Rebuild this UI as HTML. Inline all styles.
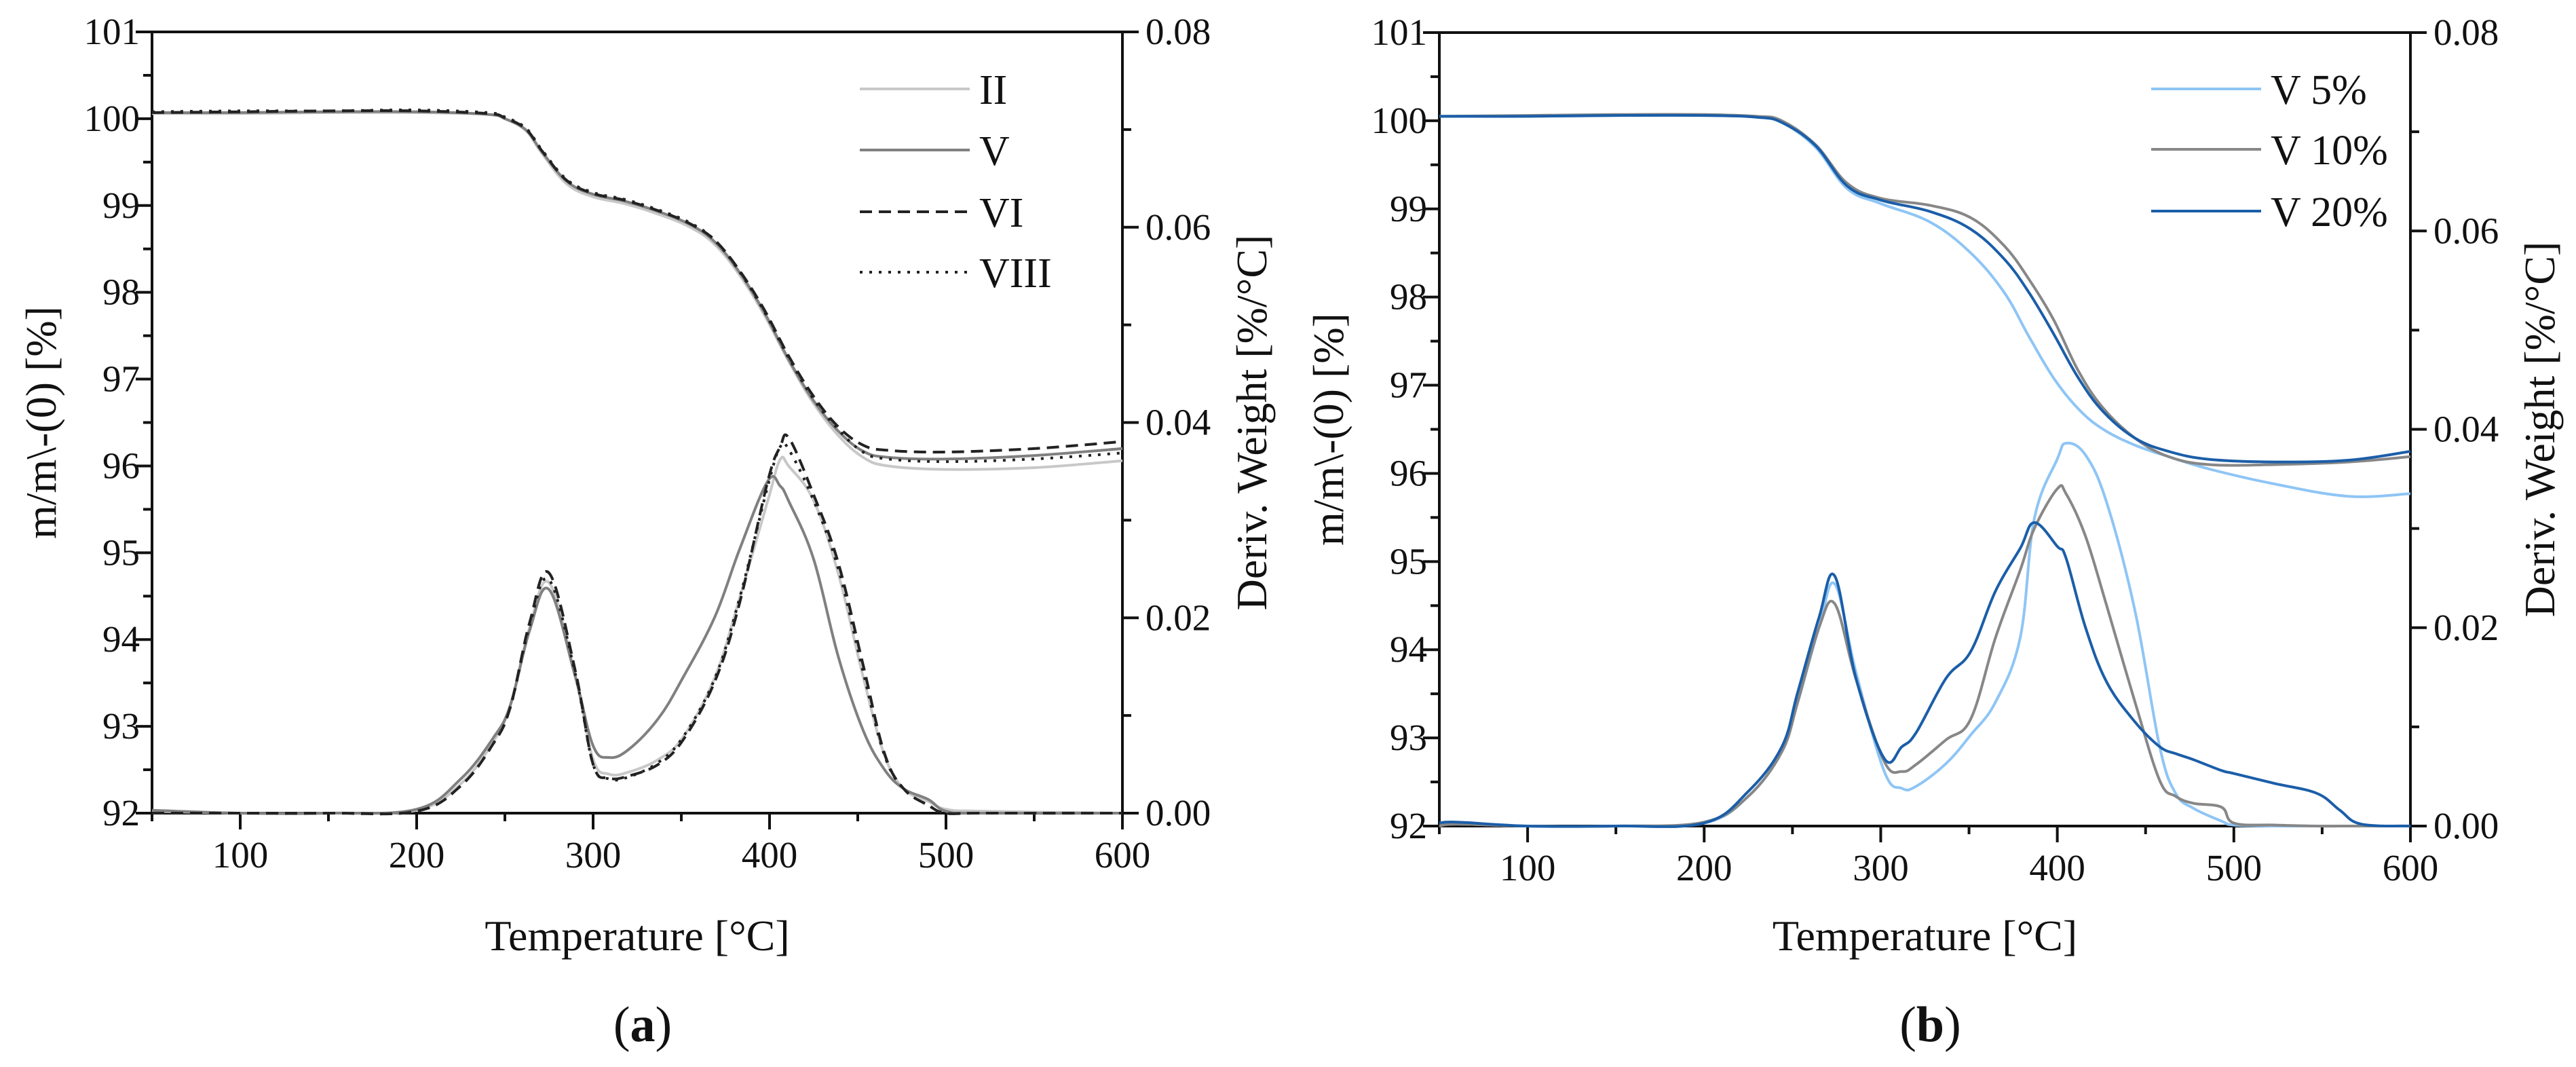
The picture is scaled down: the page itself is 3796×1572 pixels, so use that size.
<!DOCTYPE html>
<html><head><meta charset="utf-8"><style>
html,body{margin:0;padding:0;background:#fff}
svg text{font-family:"Liberation Serif",serif;fill:#111}
</style></head><body>
<svg id="chart" width="3796" height="1567" viewBox="0 0 3796 1567" xmlns="http://www.w3.org/2000/svg"></svg>
<script>
// ---------- Panel (a) data ----------
const aTgaTemps = [50,100,150,200,240,250,262,271,285,300,318,337,355,369,383,397,411,425,439,453,467,500,550,600];
const aTgaII   = [100.06,100.06,100.07,100.07,100.05,100.0,99.86,99.6,99.25,99.1,99.02,98.9,98.75,98.55,98.2,97.74,97.2,96.72,96.35,96.1,96.0,95.96,95.98,96.06];
const aTgaV    = [100.07,100.07,100.08,100.08,100.05,100.0,99.87,99.62,99.28,99.13,99.05,98.93,98.78,98.58,98.23,97.77,97.22,96.75,96.4,96.17,96.1,96.08,96.12,96.2];
const aTgaVI   = [100.07,100.08,100.09,100.09,100.06,100.01,99.88,99.63,99.29,99.14,99.06,98.94,98.79,98.6,98.25,97.8,97.26,96.8,96.45,96.24,96.18,96.16,96.2,96.28];
const aTgaVIII = [100.08,100.09,100.09,100.1,100.07,100.02,99.89,99.64,99.3,99.15,99.07,98.95,98.8,98.6,98.24,97.78,97.24,96.77,96.42,96.16,96.08,96.05,96.08,96.15];
const aDtgTemps = [50,100,150,200,225,243,253,264,275,290,300,309,320,337,351,369,383,399,406,411,425,439,453,465,476,490,500,520,600];
const aDtgII   = [0.0002,0,0,0.0003,0.003,0.0072,0.011,0.019,0.0236,0.014,0.0055,0.004,0.0042,0.0055,0.0078,0.0139,0.022,0.032,0.0362,0.0355,0.032,0.0245,0.014,0.006,0.0025,0.0012,0.0004,0.0002,0];
const aDtgV    = [0.0003,0,0,0.0004,0.0035,0.0076,0.011,0.0187,0.0229,0.0139,0.0069,0.0057,0.0065,0.0097,0.0139,0.0201,0.027,0.034,0.0335,0.0319,0.026,0.016,0.0085,0.0045,0.0025,0.0014,0.0002,0,0];
const aDtgVI   = [0,0,0,0.0002,0.0028,0.007,0.0108,0.0195,0.0246,0.0145,0.005,0.0036,0.0038,0.005,0.0075,0.0135,0.0215,0.034,0.0375,0.0384,0.0326,0.0256,0.0152,0.0062,0.0025,0.0008,0,0,0];
const aDtgVIII = [0,0,0,0.0002,0.0028,0.007,0.0108,0.0192,0.0239,0.0142,0.005,0.0035,0.0037,0.0052,0.0078,0.0138,0.022,0.0335,0.0375,0.0372,0.032,0.025,0.0145,0.006,0.0025,0.0008,0,0,0];
// ---------- Panel (b) data ----------
const bTgaTemps = [50,100,150,200,230,244,263,281,300,328,351,370,384,398,412,426,444,463,486,523,565,600];
const bTgaV5  = [100.05,100.05,100.06,100.06,100.04,99.98,99.7,99.23,99.06,98.85,98.5,98.05,97.55,97.08,96.73,96.5,96.32,96.19,96.05,95.88,95.74,95.77];
const bTgaV10 = [100.05,100.06,100.07,100.07,100.05,100.0,99.73,99.29,99.12,99.04,98.9,98.58,98.2,97.74,97.16,96.74,96.4,96.19,96.1,96.1,96.13,96.19];
const bTgaV20 = [100.05,100.05,100.06,100.06,100.04,99.98,99.72,99.26,99.1,98.97,98.77,98.43,98.05,97.58,97.08,96.7,96.4,96.25,96.16,96.13,96.15,96.25];
const bDtgTemps = [50,60,100,150,200,225,244,253,265,274,286,302,312,320,337,351,365,379,387,400,405,416,428,444,458,467,477,493,500,523,547,560,572,600];
const bDtgV5  = [0,0.0002,0,0,0.0003,0.003,0.0075,0.0125,0.02,0.0244,0.0155,0.0055,0.0038,0.004,0.0063,0.0092,0.0125,0.019,0.031,0.037,0.0386,0.0374,0.0326,0.0217,0.008,0.0033,0.0018,0.0005,0.0001,0,0,0,0,0];
const bDtgV10 = [0,0.0002,0,0,0.0004,0.003,0.0075,0.0125,0.02,0.0224,0.0148,0.0065,0.0055,0.0062,0.0087,0.0108,0.019,0.0258,0.03,0.034,0.0335,0.0292,0.0222,0.0125,0.0046,0.003,0.0023,0.0019,0.0003,0.0001,0,0,0,0];
const bDtgV20 = [0.0003,0.0004,0,0,0.0003,0.0035,0.008,0.0135,0.021,0.0252,0.0149,0.0068,0.008,0.0094,0.0149,0.0176,0.0237,0.028,0.0306,0.0282,0.027,0.02,0.0145,0.0105,0.008,0.0073,0.0067,0.0056,0.0053,0.0043,0.0033,0.0016,0.0002,0];
// ---------- Ticks ----------
const xTicks = [100,200,300,400,500,600];
const yLeftTicks = [92,93,94,95,96,97,98,99,100,101];
const yRightTicks = [0.00,0.02,0.04,0.06,0.08];
const aLegend = ["II","V","VI","VIII"];
const bLegend = ["V 5%","V 10%","V 20%"];

const NS = "http://www.w3.org/2000/svg";
const svg = document.getElementById('chart');
function mk(tag, attrs, parent){
  const e = document.createElementNS(NS, tag);
  for (const k in attrs) e.setAttribute(k, attrs[k]);
  (parent||svg).appendChild(e);
  return e;
}
function smoothPath(pts){
  let d = "M" + pts[0][0].toFixed(1) + "," + pts[0][1].toFixed(1);
  for (let i=0;i<pts.length-1;i++){
    const p0 = pts[i-1]||pts[i], p1=pts[i], p2=pts[i+1], p3=pts[i+2]||p2;
    const t=0.18;
    const c1=[p1[0]+(p2[0]-p0[0])*t, p1[1]+(p2[1]-p0[1])*t];
    const c2=[p2[0]-(p3[0]-p1[0])*t, p2[1]-(p3[1]-p1[1])*t];
    d += " C"+c1[0].toFixed(1)+","+c1[1].toFixed(1)+" "+c2[0].toFixed(1)+","+c2[1].toFixed(1)+" "+p2[0].toFixed(1)+","+p2[1].toFixed(1);
  }
  return d;
}

function panel(P){
  const g = mk('g', {});
  
  
  const xs = t => P.x0 + (t-50)/550*(P.x1-P.x0);
  const yl = v => P.y1 - (v-92)/9*(P.y1-P.y0);
  const yr = v => P.y1 - v/0.08*(P.y1-P.y0);
  const st = {stroke:'#111','stroke-width':4,fill:'none'};
  const fr = mk('path', Object.assign({d:`M${P.x0},${P.y0} V${P.y1} H${P.x1} V${P.y0} H${P.x0}`}, st), g);
   
  const xa = mk('g',{},g);  
  for (let t=50;t<=600;t+=50){
    const major = t%100===0;
    mk('line',Object.assign({x1:xs(t),x2:xs(t),y1:P.y1,y2:P.y1+(major?24:12)},st),xa);
  }
  xTicks.forEach(t=>{
    const tx = mk('text',{x:xs(t),y:P.y1+80,'text-anchor':'middle','font-size':55},xa);
    tx.textContent = t;
     
  });
  const ya = mk('g',{},g);  
  for (let v=92;v<=101.01;v+=0.5){
    const major = Math.abs(v-Math.round(v))<1e-6;
    mk('line',Object.assign({x1:P.x0,x2:P.x0-(major?24:13),y1:yl(v),y2:yl(v)},st),ya);
  }
  yLeftTicks.forEach(v=>{
    const tx = mk('text',{x:P.x0-18,y:yl(v)+18,'text-anchor':'end','font-size':55},ya);
    tx.textContent = v;
     
  });
  const yb = mk('g',{},g);  
  for (let v=0;v<=0.0801;v+=0.01){
    const major = Math.round(v*100)%2===0;
    mk('line',Object.assign({x1:P.x1,x2:P.x1+(major?24:13),y1:yr(v),y2:yr(v)},st),yb);
  }
  yRightTicks.forEach(v=>{
    const tx = mk('text',{x:P.x1+34,y:yr(v)+18,'text-anchor':'start','font-size':55},yb);
    tx.textContent = v.toFixed(2);
     
  });
  const xt = mk('text',{x:(P.x0+P.x1)/2,y:1400,'text-anchor':'middle','font-size':64},g);
  xt.textContent='Temperature [°C]';
   
  const cy=(P.y0+P.y1)/2;
  const ylt = mk('text',{x:0,y:0,'text-anchor':'middle','font-size':64,transform:`translate(${P.x0-142},${cy}) rotate(-90)`},g);
  ylt.textContent='m/m\\-(0) [%]';
   
  const yrt = mk('text',{x:0,y:0,'text-anchor':'middle','font-size':64,transform:`translate(${P.x1+212},${cy}) rotate(-90)`},g);
  yrt.textContent='Deriv. Weight [%/°C]';
   
  const cap = mk('text',{x:(P.x0+P.x1)/2+8,y:1534,'text-anchor':'middle','font-size':74},g);
  cap.innerHTML = '(<tspan font-weight="bold">'+P.cap+'</tspan>)';
   
  P.series.forEach(s=>{
    const tp = s.tgaT.map((t,i)=>[xs(t), yl(s.tga[i])]);
    const a = mk('path',{d:smoothPath(tp),stroke:s.color,'stroke-width':4,fill:'none','stroke-dasharray':s.dash||'none','stroke-linejoin':'round'},g);
     
    const dp = s.dtgT.map((t,i)=>[xs(t), yr(s.dtg[i])]);
    const b = mk('path',{d:smoothPath(dp),stroke:s.color,'stroke-width':4,fill:'none','stroke-dasharray':s.dash||'none','stroke-linejoin':'round'},g);
     
  });
  const lg = mk('g',{},g);  
  P.series.forEach((s,i)=>{
    const y = P.legY[i];
    const en = mk('g',{},lg);
     
    mk('line',{x1:P.legX,x2:P.legX+162,y1:y,y2:y,stroke:s.color,'stroke-width':4,'stroke-dasharray':s.dash||'none'},en);
    const tx = mk('text',{x:P.legX+176,y:y+22,'font-size':62},en);
    tx.textContent = P.labels[i];
  });
}

panel({name:'panel-a',cap:'a',x0:224,x1:1654,y0:47,y1:1198,legX:1267,legY:[131,221,312,401],labels:aLegend,
  series:[
    {key:'II',color:'#c8c8c8',tgaT:aTgaTemps,tga:aTgaII,dtgT:aDtgTemps,dtg:aDtgII},
    {key:'V',color:'#808080',tgaT:aTgaTemps,tga:aTgaV,dtgT:aDtgTemps,dtg:aDtgV},
    {key:'VI',color:'#222',dash:'18 10',tgaT:aTgaTemps,tga:aTgaVI,dtgT:aDtgTemps,dtg:aDtgVI},
    {key:'VIII',color:'#222',dash:'4 10',tgaT:aTgaTemps,tga:aTgaVIII,dtgT:aDtgTemps,dtg:aDtgVIII}
  ]});
panel({name:'panel-b',cap:'b',x0:2121,x1:3552,y0:48,y1:1217,legX:3170,legY:[131,220,311],labels:bLegend,
  series:[
    {key:'V5',color:'#8ec5f5',tgaT:bTgaTemps,tga:bTgaV5,dtgT:bDtgTemps,dtg:bDtgV5},
    {key:'V10',color:'#878787',tgaT:bTgaTemps,tga:bTgaV10,dtgT:bDtgTemps,dtg:bDtgV10},
    {key:'V20',color:'#1b5ea8',tgaT:bTgaTemps,tga:bTgaV20,dtgT:bDtgTemps,dtg:bDtgV20}
  ]});
</script>
</body></html>
